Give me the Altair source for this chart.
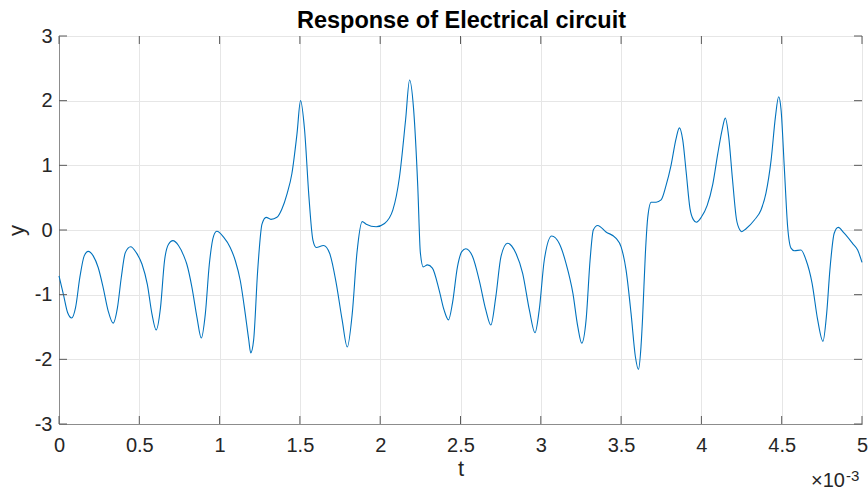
import altair as alt
import pandas as pd

# Circuit response samples: time in milliseconds (axis shows x 10^-3 s) and output y
t_ms = [
    0.000, 0.027, 0.054, 0.079, 0.103, 0.130, 0.157, 0.182, 0.213, 0.244,
    0.275, 0.306, 0.337, 0.364, 0.388, 0.413, 0.446, 0.481, 0.517, 0.550,
    0.579, 0.605, 0.632, 0.657, 0.682, 0.709, 0.744, 0.777, 0.796, 0.828,
    0.859, 0.886, 0.911, 0.936, 0.963, 0.983, 1.025, 1.066, 1.098, 1.129,
    1.160, 1.181, 1.194, 1.212, 1.237, 1.264, 1.290, 1.320, 1.357, 1.388,
    1.420, 1.450, 1.482, 1.504, 1.529, 1.556, 1.581, 1.602, 1.647, 1.685,
    1.726, 1.763, 1.795, 1.826, 1.855, 1.888, 1.913, 1.975, 2.027, 2.079,
    2.120, 2.158, 2.183, 2.207, 2.234, 2.250, 2.268, 2.294, 2.325, 2.367,
    2.398, 2.425, 2.450, 2.481, 2.508, 2.533, 2.575, 2.616, 2.658, 2.689,
    2.720, 2.752, 2.793, 2.845, 2.887, 2.929, 2.964, 2.990, 3.022, 3.068,
    3.115, 3.157, 3.200, 3.230, 3.255, 3.282, 3.307, 3.327, 3.354, 3.406,
    3.469, 3.500, 3.531, 3.562, 3.589, 3.608, 3.624, 3.634, 3.651, 3.666,
    3.687, 3.718, 3.749, 3.780, 3.811, 3.842, 3.863, 3.884, 3.905, 3.929,
    3.950, 3.969, 4.000, 4.036, 4.071, 4.102, 4.129, 4.149, 4.170, 4.193,
    4.218, 4.240, 4.251, 4.278, 4.330, 4.371, 4.402, 4.434, 4.461, 4.481,
    4.496, 4.517, 4.537, 4.558, 4.579, 4.620, 4.651, 4.689, 4.724, 4.757,
    4.780, 4.800, 4.827, 4.852, 4.889, 4.942, 4.973, 5.000,
]
y_vals = [
    -0.71, -0.99, -1.28, -1.36, -1.20, -0.73, -0.40, -0.33, -0.40, -0.58,
    -0.89, -1.25, -1.44, -1.20, -0.73, -0.35, -0.26, -0.35, -0.53, -0.84,
    -1.30, -1.545, -1.20, -0.475, -0.22, -0.165, -0.24, -0.40, -0.53, -0.89,
    -1.35, -1.67, -1.30, -0.53, -0.09, -0.02, -0.11, -0.27, -0.475, -0.785,
    -1.30, -1.69, -1.90, -1.70, -0.63, 0.09, 0.196, 0.165, 0.196, 0.325,
    0.56, 0.87, 1.49, 2.00, 1.55, 0.52, -0.155, -0.27, -0.24, -0.36,
    -0.82, -1.39, -1.81, -1.29, -0.36, 0.13, 0.09, 0.05, 0.10, 0.31,
    0.82, 1.70, 2.32, 1.90, 0.67, -0.35, -0.57, -0.54, -0.59, -0.93,
    -1.24, -1.39, -1.13, -0.57, -0.335, -0.29, -0.41, -0.77, -1.24, -1.47,
    -1.03, -0.41, -0.206, -0.36, -0.67, -1.24, -1.59, -1.24, -0.46, -0.093,
    -0.21, -0.515, -0.98, -1.49, -1.75, -1.39, -0.46, 0.00, 0.07, -0.03,
    -0.13, -0.26, -0.62, -1.29, -1.96, -2.155, -1.80, -1.35, -0.37, 0.196,
    0.43, 0.43, 0.465, 0.69, 1.00, 1.41, 1.58, 1.39, 0.90, 0.33,
    0.16, 0.12, 0.20, 0.38, 0.71, 1.18, 1.55, 1.73, 1.44, 0.80,
    0.17, 0.00, -0.026, 0.02, 0.155, 0.31, 0.57, 1.08, 1.75, 2.06,
    1.86, 0.93, 0.05, -0.28, -0.32, -0.31, -0.46, -0.82, -1.39, -1.72,
    -1.29, -0.62, -0.05, 0.04, -0.05, -0.21, -0.31, -0.50,
]

x_ticks = [0, 0.5, 1, 1.5, 2, 2.5, 3, 3.5, 4, 4.5, 5]
y_ticks = [-3, -2, -1, 0, 1, 2, 3]

W, H = 803, 388
FONT = "Liberation Sans"
INK = "#262626"
TICK_LEN = 8

df = pd.DataFrame({"t": t_ms, "y": y_vals})
xt = pd.DataFrame({"v": x_ticks})
yt = pd.DataFrame({"v": y_ticks})

x_scale = alt.Scale(domain=[0, 5], nice=False, zero=False)
y_scale = alt.Scale(domain=[-3, 3], nice=False, zero=False)

x_axis = alt.Axis(
    values=x_ticks, grid=True, gridColor="#e6e6e6", tickSize=0,
    domainColor="#8c8c8c", labelFont=FONT, labelFontSize=20, labelColor=INK,
    labelPadding=11, labelFlush=False, labelExpr="toString(datum.value)",
    title="t", titleFont=FONT, titleFontSize=22, titleFontWeight="normal",
    titleColor=INK, titleBaseline="alphabetic", titleY=51, titleX=W / 2,
)
y_axis = alt.Axis(
    values=y_ticks, grid=True, gridColor="#e6e6e6", tickSize=0,
    domainColor="#8c8c8c", labelFont=FONT, labelFontSize=20, labelColor=INK,
    labelPadding=7, labelFlush=False, labelExpr="toString(datum.value)",
    title="y", titleFont=FONT, titleFontSize=22, titleFontWeight="normal",
    titleColor=INK, titleBaseline="alphabetic", titleX=-36, titleY=H / 2,
    titleAngle=270,
)

line = alt.Chart(df).mark_line(
    color="#0072BD", strokeWidth=1.1, interpolate="monotone"
).encode(
    x=alt.X("t:Q", scale=x_scale, axis=x_axis),
    y=alt.Y("y:Q", scale=y_scale, axis=y_axis),
)

# inward tick marks on all four sides of the box
tick_style = dict(color="#5a5a5a", strokeWidth=1)
bottom_ticks = alt.Chart(xt).mark_rule(**tick_style).encode(
    x=alt.X("v:Q", scale=x_scale), y=alt.value(H), y2=alt.value(H - TICK_LEN)
)
top_ticks = alt.Chart(xt).mark_rule(**tick_style).encode(
    x=alt.X("v:Q", scale=x_scale), y=alt.value(0), y2=alt.value(TICK_LEN)
)
left_ticks = alt.Chart(yt).mark_rule(**tick_style).encode(
    y=alt.Y("v:Q", scale=y_scale), x=alt.value(0), x2=alt.value(TICK_LEN)
)
right_ticks = alt.Chart(yt).mark_rule(**tick_style).encode(
    y=alt.Y("v:Q", scale=y_scale), x=alt.value(W), x2=alt.value(W - TICK_LEN)
)

one_row = alt.Chart(xt).transform_filter("datum.v == 0")

# chart heading above the box
heading = one_row.mark_text(
    text="Response of Electrical circuit", font=FONT, fontSize=23.5,
    fontWeight="bold", color="#000000", align="center", baseline="alphabetic",
).encode(x=alt.value(W / 2 + 1), y=alt.value(-8))

# exponent note for the time axis
exp_base = one_row.mark_text(
    text="×10", font=FONT, fontSize=20, color=INK, align="right",
    baseline="alphabetic",
).encode(x=alt.value(786), y=alt.value(451))
exp_power = one_row.mark_text(
    text="-3", font=FONT, fontSize=15, color=INK, align="left",
    baseline="alphabetic",
).encode(x=alt.value(787), y=alt.value(445))

chart = alt.layer(
    line, bottom_ticks, top_ticks, left_ticks, right_ticks,
    heading, exp_base, exp_power,
).properties(
    width=W,
    height=H,
    autosize=alt.AutoSizeParams(type="none"),
    padding={"left": 59, "top": 36, "right": 6, "bottom": 67},
    background="white",
).configure_view(stroke="#8c8c8c", strokeWidth=1)

chart.save("out.html", embed_options={"renderer": "svg", "actions": False})
